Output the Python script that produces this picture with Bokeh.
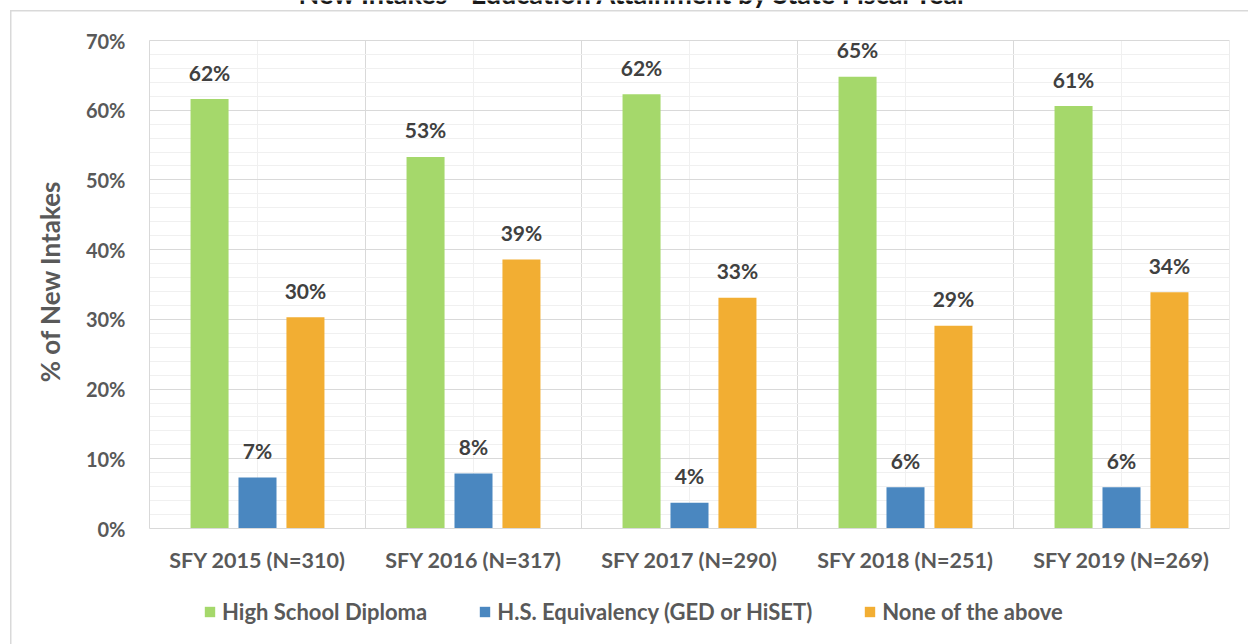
from bokeh.plotting import figure
from bokeh.models import (FactorRange, Range1d, FixedTicker, PrintfTickFormatter,
                          ColumnDataSource, Span, Legend, LegendItem, Label, LabelSet)
from bokeh.transform import dodge
from bokeh.core.properties import value
from bokeh.embed import file_html
from bokeh.resources import INLINE

# ---------------- data ----------------
title = "New Intakes - Education Attainment by State Fiscal Year"
categories = ["SFY 2015 (N=310)", "SFY 2016 (N=317)", "SFY 2017 (N=290)",
              "SFY 2018 (N=251)", "SFY 2019 (N=269)"]
series = ["High School Diploma", "H.S. Equivalency (GED or HiSET)", "None of the above"]
high_school = [61.6, 53.3, 62.3, 64.8, 60.6]
equivalency = [7.3, 7.9, 3.7, 5.9, 5.9]
none_above = [30.3, 38.6, 33.1, 29.1, 33.9]
y_ticks = [0, 10, 20, 30, 40, 50, 60, 70]
y_minor = [v for v in range(0, 71, 2) if v % 10]
y_label = "% of New Intakes"

# ---------------- styles ----------------
FONT = "Lato"
colors = ["#A5D86B", "#4A87C0", "#F2AE33"]
TXT = "#595959"
LBL = "#404040"
GRID = "#d9d9d9"
MINOR = "#f0f0f0"
offsets = [-0.222, 0.0, 0.222]
bar_w = 0.176

W, H = 1248, 644
F_LEFT, F_RIGHT = 149, 1229          # plot-area edges (px)
AXIS_TOP_PX, AXIS_BOT_PX = 40, 528   # pixel rows of the 70% and 0% lines
y_max = y_ticks[-1]
px_per_unit = (AXIS_BOT_PX - AXIS_TOP_PX) / y_max
y_top = y_max + AXIS_TOP_PX / px_per_unit          # frame covers the full canvas height
y_bottom = -(H - AXIS_BOT_PX) / px_per_unit

def pct(vals):
    return ["%d%%" % int(v + 0.5) for v in vals]

src = ColumnDataSource(dict(
    cat=categories,
    s0=high_school, s1=equivalency, s2=none_above,
    l0=pct(high_school), l1=pct(equivalency), l2=pct(none_above),
    y0=[0] * len(categories), y1=[y_max] * len(categories),
))
last = ColumnDataSource(dict(cat=categories[-1:], y0=[0], y1=[y_max]))

p = figure(x_range=FactorRange(*categories), y_range=Range1d(y_bottom, y_top),
           width=W, height=H, output_backend="svg", toolbar_location=None,
           min_border_left=F_LEFT, min_border_right=W - F_RIGHT, min_border_top=0,
           min_border_bottom=0)
p.outline_line_color = None
p.background_fill_color = None
p.border_fill_color = None
# thin chart-area border (left and top edges) drawn behind the transparent canvas
p.styles = {"box-shadow": "inset 10px 10px 0 0 #ffffff, inset 11.5px 11.5px 0 0 #d9d9d9"}

# horizontal grid
tick = FixedTicker(ticks=y_ticks, minor_ticks=y_minor)
p.yaxis.ticker = tick
p.ygrid.ticker = tick
p.ygrid.grid_line_color = GRID
p.ygrid.minor_grid_line_color = MINOR
p.xgrid.visible = False
p.add_layout(Span(location=y_max, dimension="width", line_color=GRID, line_width=1,
                  level="underlay"))

# vertical grid: light line at each category centre, darker at boundaries
p.segment(x0=dodge("cat", 0, range=p.x_range), x1=dodge("cat", 0, range=p.x_range),
          y0="y0", y1="y1", source=src, line_color=MINOR, line_width=1, level="underlay")
p.segment(x0=dodge("cat", -0.5, range=p.x_range), x1=dodge("cat", -0.5, range=p.x_range),
          y0="y0", y1="y1", source=src, line_color=GRID, line_width=1, level="underlay")
p.segment(x0=dodge("cat", 0.5, range=p.x_range), x1=dodge("cat", 0.5, range=p.x_range),
          y0="y0", y1="y1", source=last, line_color=GRID, line_width=1, level="underlay")

# bars
renderers = []
for k, key in enumerate(["s0", "s1", "s2"]):
    r = p.vbar(x=dodge("cat", offsets[k], range=p.x_range), top=key, width=bar_w,
               source=src, fill_color=colors[k], line_color=None)
    renderers.append(r)
    ls = LabelSet(x=dodge("cat", offsets[k], range=p.x_range), y=key, text="l%d" % k,
                  source=src, y_offset=27, text_align="center", text_baseline="middle",
                  text_font=value(FONT), text_font_size="21px", text_font_style="bold",
                  text_color=LBL)
    p.add_layout(ls)

# axes
p.yaxis.formatter = PrintfTickFormatter(format="%d%%")
p.yaxis.bounds = (0, y_max)
p.xaxis.fixed_location = 0
for ax in (p.xaxis, p.yaxis):
    ax.major_tick_line_color = None
    ax.minor_tick_line_color = None
    ax.axis_line_color = GRID
    ax.major_label_text_font = FONT
    ax.major_label_text_font_style = "bold"
    ax.major_label_text_color = TXT
p.yaxis.major_label_text_font_size = "20px"
p.xaxis.major_label_text_font_size = "21.5px"
p.yaxis.major_label_standoff = 18
p.xaxis.major_label_standoff = 12
# leading no-break spaces lift the rotated label to the centre of the 0-70% span
p.yaxis.axis_label = "\u00a0" * 13 + y_label
p.yaxis.axis_label_text_font = FONT
p.yaxis.axis_label_text_font_size = "26px"
p.yaxis.axis_label_text_font_style = "bold"
p.yaxis.axis_label_text_color = TXT
p.yaxis.axis_label_standoff = 17

# legend under the category labels
leg = Legend(items=[LegendItem(label=series[k], renderers=[renderers[k]]) for k in range(3)],
             location=(54, 19), orientation="horizontal", spacing=51,
             padding=0, margin=0, border_line_alpha=0, background_fill_alpha=0,
             glyph_width=13, glyph_height=13, label_standoff=6,
             label_text_font=FONT, label_text_font_size="22px",
             label_text_font_style="bold", label_text_color=TXT)
p.add_layout(leg, "center")

# title, cropped at the top edge as in the source picture
p.add_layout(Label(x=(len(categories)) / 2, y=y_max, x_offset=-55, y_offset=AXIS_TOP_PX + 7,
                   text=title, text_align="center", text_baseline="alphabetic",
                   text_font=FONT, text_font_size="27px", text_font_style="bold",
                   text_color="#1a1a1a"))

open("out.html", "w").write(file_html(p, INLINE))
